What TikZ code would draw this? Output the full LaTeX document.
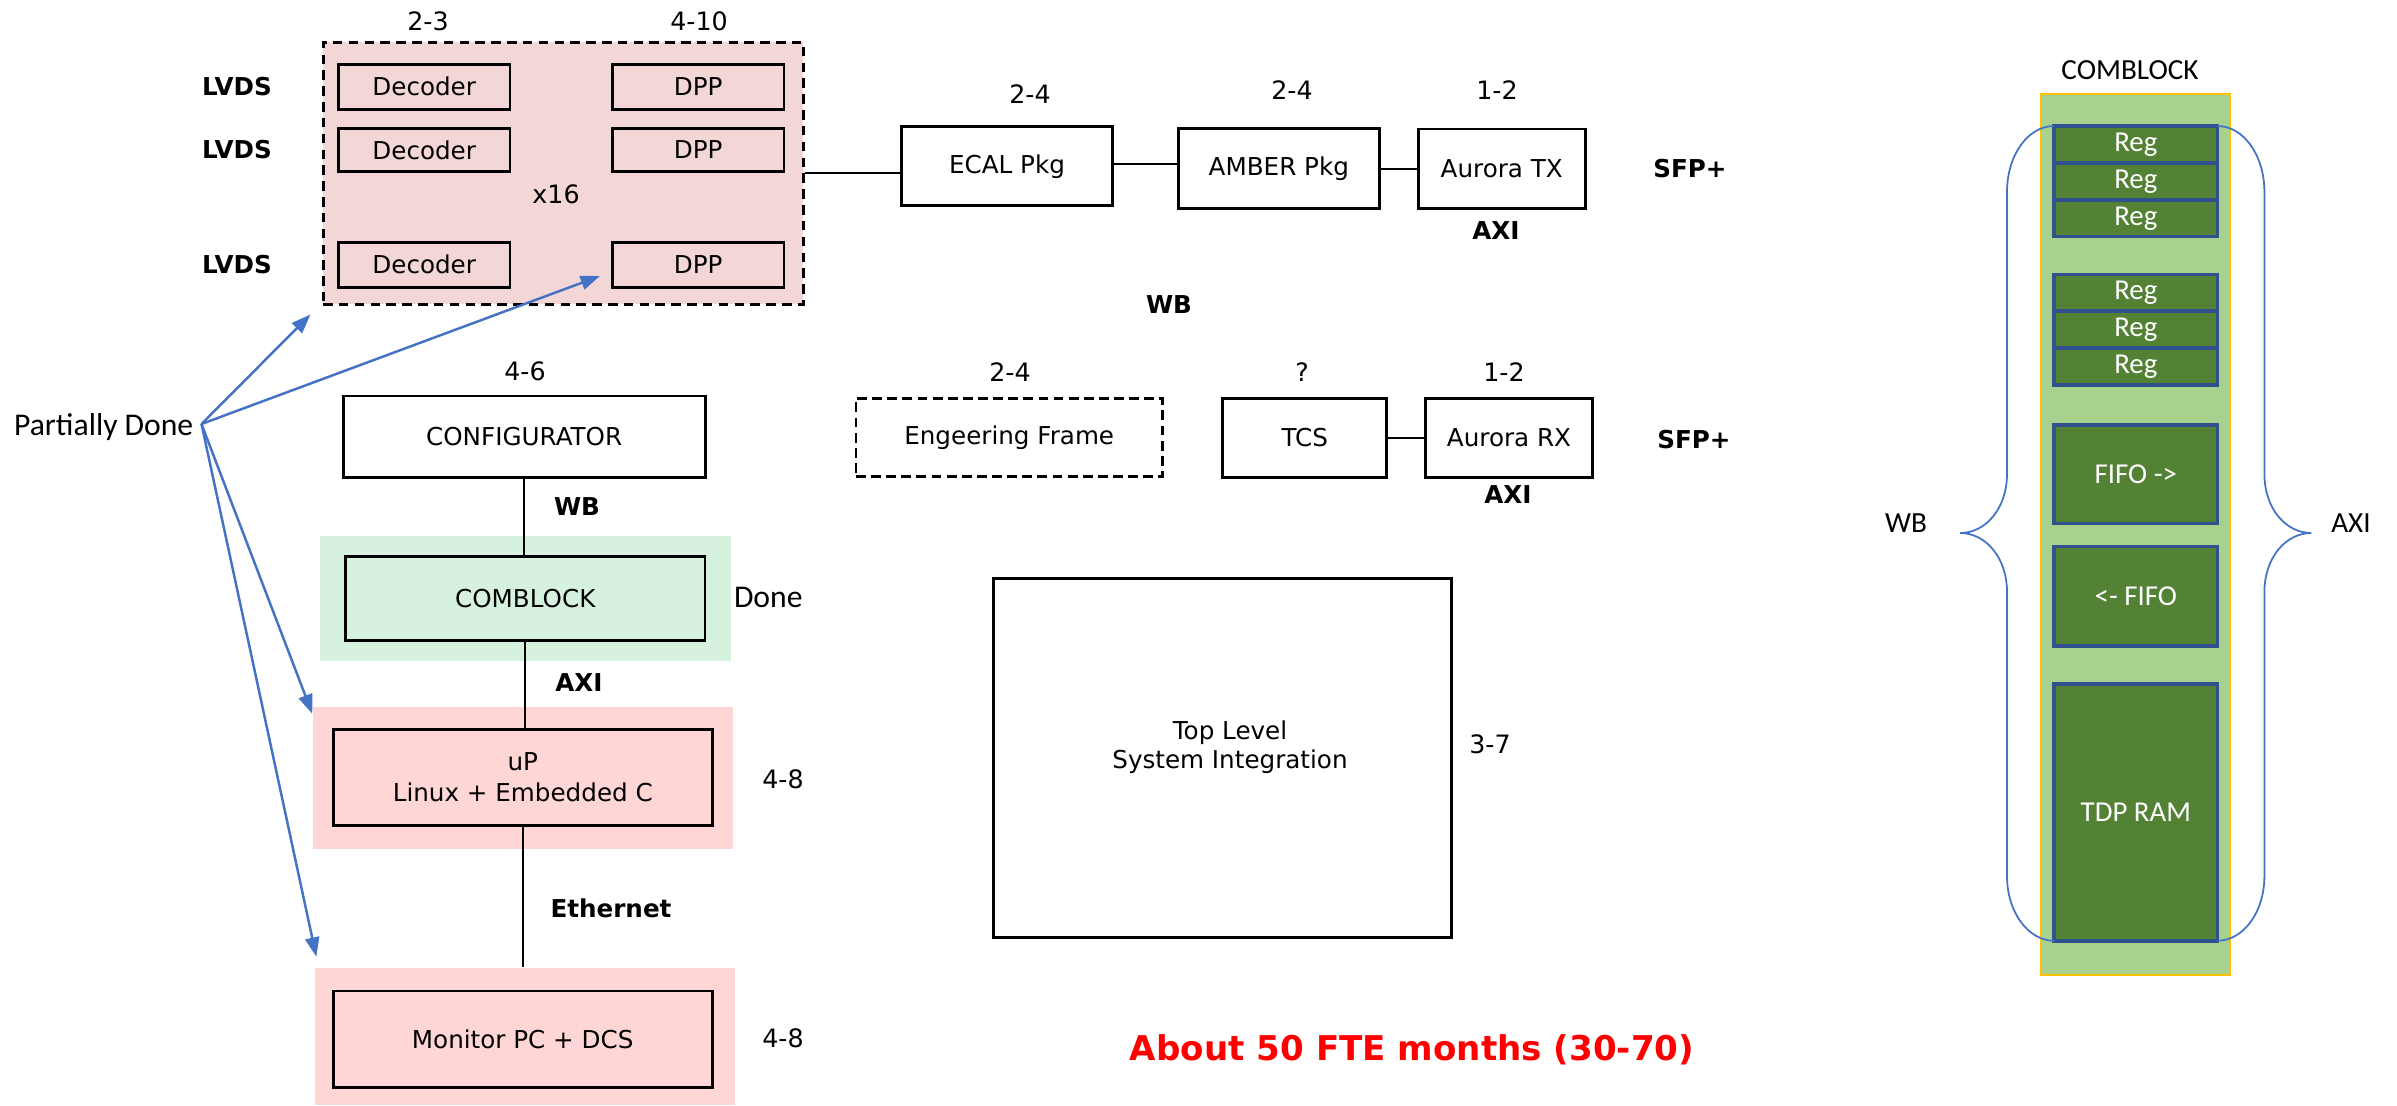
\documentclass[tikz,border=0pt]{standalone}
\usepackage{fontspec}
\setmainfont{DejaVu Sans}
\newfontfamily\carlito{Carlito}
\usetikzlibrary{arrows.meta}
\definecolor{dashpink}{RGB}{243,215,215}
\definecolor{bgpink}{RGB}{255,214,214}
\definecolor{bggreen}{RGB}{214,242,223}
\definecolor{colgreen}{RGB}{169,209,142}
\definecolor{colborder}{RGB}{255,192,0}
\definecolor{reggreen}{RGB}{84,130,53}
\definecolor{regborder}{RGB}{47,82,143}
\definecolor{arrowblue}{RGB}{68,114,196}
\begin{document}
\begin{tikzpicture}[x=0.01cm,y=-0.01cm,
  num/.style={font=\fontsize{7.2}{8.8}\selectfont, inner sep=0pt},
  lbl/.style={font=\fontsize{7}{8.8}\selectfont\bfseries, inner sep=0pt},
  blk/.style={draw, line width=0.8pt, inner sep=0pt, font=\fontsize{7}{8.8}\selectfont, align=center},
  conn/.style={line width=0.6pt},
  bgrect/.style={inner sep=0pt, draw=none},
  note/.style={font=\carlito\fontsize{9}{11}\selectfont, inner sep=0pt},
  cblk/.style={font=\carlito\fontsize{8.3}{10}\selectfont, inner sep=0pt},
  regbox/.style={draw=regborder, fill=reggreen, line width=1pt, text=white, font=\carlito\fontsize{8.2}{10}\selectfont, minimum width=1.633cm, inner sep=0pt},
  pointer/.style={draw=arrowblue, line width=0.7pt, -{Triangle[length=5.5pt,width=4pt]}},
  bracepath/.style={draw=arrowblue, line width=0.5pt}
]
\useasboundingbox (0,0) rectangle (2397,1105);

% backgrounds
\node[bgrect, fill=dashpink, draw=black, dash pattern=on 2.7pt off 1.8pt, line width=0.8pt,
      minimum width=4.798cm, minimum height=2.617cm] (dpbox) at (563.2,173.2) {};
\node[bgrect, fill=bggreen, minimum width=4.107cm, minimum height=1.253cm] (combg) at (525.3,598.4) {};
\node[bgrect, fill=bgpink, minimum width=4.20cm, minimum height=1.423cm] (upbg) at (522.7,777.8) {};
\node[bgrect, fill=bgpink, minimum width=4.194cm, minimum height=1.373cm] (monbg) at (525,1036.4) {};

% decoder / DPP
\node[blk, minimum width=1.716cm, minimum height=0.45cm] (dec1) at (424.2,86.8) {Decoder};
\node[blk, minimum width=1.716cm, minimum height=0.434cm] (dec2) at (424.2,150) {Decoder};
\node[blk, minimum width=1.716cm, minimum height=0.45cm] (dec3) at (424.2,264.8) {Decoder};
\node[blk, minimum width=1.716cm, minimum height=0.45cm] (dpp1) at (698.2,86.8) {DPP};
\node[blk, minimum width=1.716cm, minimum height=0.434cm] (dpp2) at (698.2,150) {DPP};
\node[blk, minimum width=1.716cm, minimum height=0.45cm] (dpp3) at (698.2,264.8) {DPP};
\node[num] (x16) at (556,194.3) {x16};
\node[num] (n23) at (428,21) {2-3};
\node[num] (n410) at (699,21) {4-10};
\node[lbl] (lv1) at (237,87) {LVDS};
\node[lbl] (lv2) at (237,150) {LVDS};
\node[lbl] (lv3) at (237,265) {LVDS};

% top chain
\node[blk, minimum width=2.106cm, minimum height=0.79cm] (ecal) at (1007,166.2) {ECAL Pkg};
\node[blk, minimum width=2.009cm, minimum height=0.80cm] (amber) at (1278.8,168.7) {AMBER Pkg};
\node[blk, minimum width=1.667cm, minimum height=0.793cm] (atx) at (1501.7,168.7) {Aurora TX};
\node[num] (n24a) at (1030,94) {2-4};
\node[num] (n24b) at (1292,90.5) {2-4};
\node[num] (n12a) at (1497,90) {1-2};
\node[lbl] (sfp1) at (1690,169) {SFP+};
\node[lbl] (axi1) at (1496,231) {AXI};
\node[lbl] (wbmid) at (1169,305) {WB};

\draw[conn] (dpbox.east |- 0,173.3) -- (ecal.west |- 0,173.3);
\draw[conn] (ecal.east |- 0,164) -- (amber.west |- 0,164);
\draw[conn] (amber.east) -- (atx.west);

% second row
\node[blk, dashed, dash pattern=on 2.8pt off 1.5pt, minimum width=3.063cm, minimum height=0.784cm] (eng) at (1009.2,437.5) {Engeering Frame};
\node[blk, minimum width=1.64cm, minimum height=0.79cm] (tcs) at (1304.7,437.8) {TCS};
\node[blk, minimum width=1.666cm, minimum height=0.79cm] (arx) at (1509,437.8) {Aurora RX};
\node[num] (n24c) at (1010,372) {2-4};
\node[num] (nq) at (1302,372) {?};
\node[num] (n12b) at (1504,372) {1-2};
\node[lbl] (sfp2) at (1694,440) {SFP+};
\node[lbl] (axi2) at (1508,495) {AXI};
\draw[conn] (tcs.east) -- (arx.west);

% left column
\node[blk, minimum width=3.617cm, minimum height=0.813cm] (config) at (524.2,436.7) {CONFIGURATOR};
\node[num] (n46) at (525,371.7) {4-6};
\node[blk, minimum width=3.593cm, minimum height=0.84cm] (comblock) at (525.3,598.7) {COMBLOCK};
\node[blk, minimum width=3.79cm, minimum height=0.964cm] (up) at (522.8,777.5) {uP\\Linux + Embedded C};
\node[blk, minimum width=3.79cm, minimum height=0.963cm] (monitor) at (522.7,1039.2) {\raisebox{-2.6pt}{Monitor PC + DCS}};
\node[lbl] (wbl) at (577,507) {WB};
\node[lbl] (axil) at (579,683) {AXI};
\node[lbl] (eth) at (611,908) {Ethernet};
\node[num] (n48a) at (783,779) {4-8};
\node[num] (n48b) at (783,1038.3) {4-8};
\node[note, anchor=west] (done) at (733.3,597.5) {Done};
\draw[conn] (config.south) -- (config.south |- comblock.north);
\draw[conn] (comblock.south) -- (comblock.south |- up.north);
\draw[conn] (up.south) -- (up.south |- monbg.north);

% top level
\node[blk, minimum width=4.576cm, minimum height=3.586cm] (toplvl) at (1222.2,757.7) {};
\node[font=\fontsize{7}{8.4}\selectfont, align=center, inner sep=0pt] (toptxt) at (1230,747) {Top Level\\System Integration};
\node[num] (n37) at (1490,744) {3-7};
\node[font=\fontsize{9.7}{11}\selectfont\bfseries, text=red, inner sep=0pt] (fte) at (1412,1050) {About 50 FTE months (30-70)};

% partially done arrows
\node[note, anchor=east] (pdone) at (194,427) {Partially Done};
\coordinate (pdo) at (201.5,424);
\coordinate (t1) at (310.5,314.5);
\coordinate (t2) at (600,276);
\coordinate (t3) at (312.3,713.8);
\coordinate (t4) at (316.3,956.7);
\draw[pointer] (pdo) -- (t1);
\draw[pointer] (pdo) -- (t2);
\draw[pointer] (pdo) -- (t3);
\draw[pointer] (pdo) -- (t4);

% right panel
\node[cblk] (cbtitle) at (2130,70) {COMBLOCK};
\node[draw=colborder, fill=colgreen, line width=0.6pt, inner sep=0pt, minimum width=1.895cm, minimum height=8.807cm] (col) at (2135.6,534.7) {};
\node[regbox, minimum height=0.369cm] (r1) at (2135.8,144.45) {Reg};
\node[regbox, minimum height=0.369cm] (r2) at (2135.8,181.35) {Reg};
\node[regbox, minimum height=0.369cm] (r3) at (2135.8,218.25) {Reg};
\node[regbox, minimum height=0.369cm] (r4) at (2135.8,292.75) {Reg};
\node[regbox, minimum height=0.369cm] (r5) at (2135.8,329.65) {Reg};
\node[regbox, minimum height=0.369cm] (r6) at (2135.8,366.55) {Reg};
\node[regbox, minimum height=0.983cm] (fifo1) at (2135.8,474.2) {FIFO ->};
\node[regbox, minimum height=0.993cm] (fifo2) at (2135.8,596.4) {<- FIFO};
\node[regbox, minimum height=2.564cm] (tdp) at (2135.8,812.5) {TDP RAM};

\draw[bracepath] (2054,126) .. controls (2028,126) and (2007,155) .. (2007,192)
  -- (2007,474) .. controls (2007,508) and (1986,533) .. (1960,533)
  .. controls (1986,533) and (2007,558) .. (2007,592)
  -- (2007,876) .. controls (2007,912) and (2028,940.7) .. (2054,940.7);
\draw[bracepath] (2217.4,126) .. controls (2243.4,126) and (2264.4,155) .. (2264.4,192)
  -- (2264.4,474) .. controls (2264.4,508) and (2285.4,533) .. (2311.4,533)
  .. controls (2285.4,533) and (2264.4,558) .. (2264.4,592)
  -- (2264.4,876) .. controls (2264.4,912) and (2243.4,940.7) .. (2217.4,940.7);
\node[cblk] (wbr) at (1906,523) {WB};
\node[cblk] (axir) at (2351,523) {AXI};
\end{tikzpicture}
\end{document}
